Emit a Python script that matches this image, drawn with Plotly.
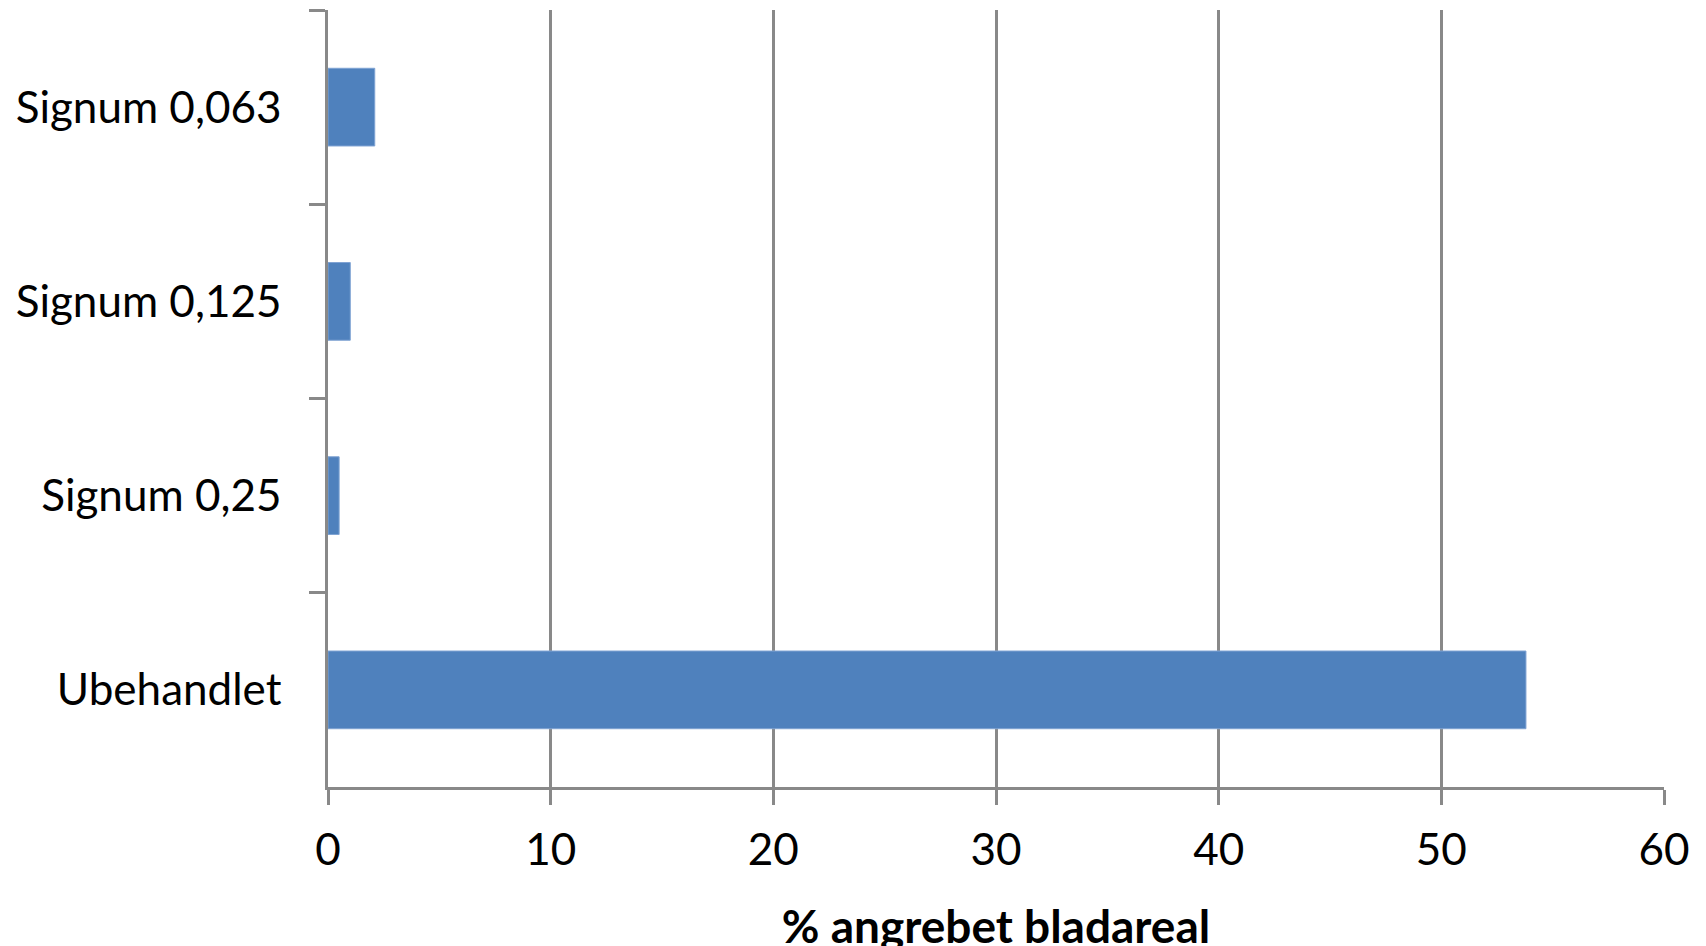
import plotly.graph_objects as go

categories = ["Signum 0,063", "Signum 0,125", "Signum 0,25", "Ubehandlet"]
values = [2.1, 1.0, 0.5, 53.8]
x_ticks = [0, 10, 20, 30, 40, 50, 60]
x_title = "% angrebet bladareal"

GRAY = "#898989"
FONT = "Lato"

fig = go.Figure(
    go.Bar(
        y=categories,
        x=values,
        orientation="h",
        marker=dict(color="#4F81BD", line=dict(color="#7FA3D3", width=1)),
        width=0.4,
    )
)

fig.update_layout(
    width=1706,
    height=946,
    margin=dict(l=320, r=50, t=2, b=167),
    paper_bgcolor="white",
    plot_bgcolor="white",
    showlegend=False,
    font=dict(family=FONT, size=44, color="black"),
)

fig.update_xaxes(
    range=[0, 60],
    tickvals=x_ticks,
    ticks="outside",
    ticklen=15,
    tickwidth=2.5,
    tickcolor=GRAY,
    showgrid=True,
    gridcolor=GRAY,
    gridwidth=2.5,
    showline=True,
    linecolor=GRAY,
    linewidth=2.5,
    zeroline=False,
    tickfont=dict(family=FONT, size=44, color="black"),
    ticklabelstandoff=7,
    title=dict(text="<b>" + x_title + "</b>", font=dict(family=FONT, size=46, color="black"), standoff=39),
)

fig.update_yaxes(
    categoryorder="array",
    categoryarray=categories,
    autorange="reversed",
    ticks="outside",
    tickson="boundaries",
    ticklen=16,
    tickwidth=2.5,
    tickcolor=GRAY,
    showgrid=False,
    showline=True,
    linecolor=GRAY,
    linewidth=2.5,
    zeroline=False,
    tickfont=dict(family=FONT, size=44, color="black"),
    ticklabelstandoff=35,
)

fig.write_html("out.html")
